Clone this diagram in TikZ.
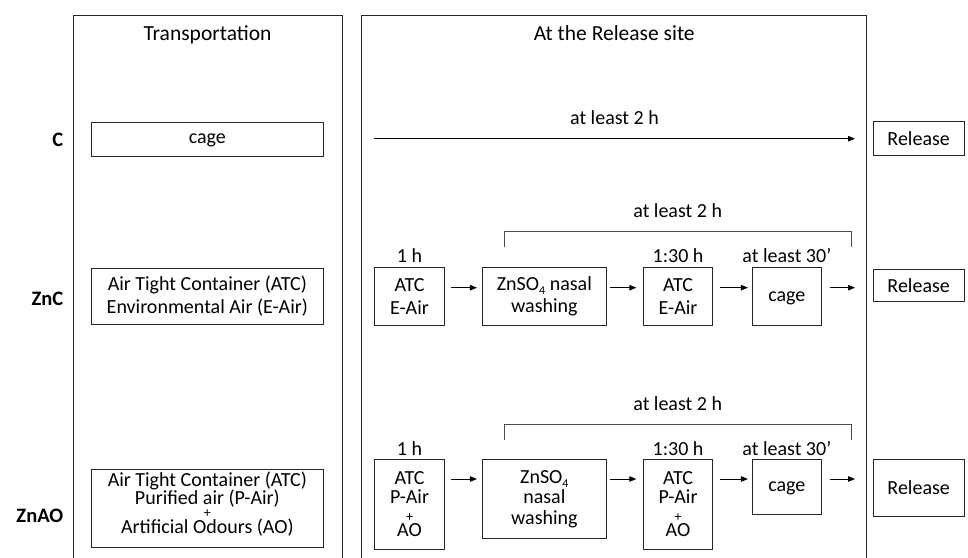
\documentclass[tikz,border=0pt]{standalone}
\usepackage{fontspec}
\setmainfont{Carlito}
\usetikzlibrary{arrows.meta}
\newcommand{\bodyfont}{\fontsize{20}{22.5}\selectfont}
\newcommand{\headfont}{\fontsize{21.5}{25}\selectfont}
\newcommand{\rowfont}{\fontsize{20.5}{24}\selectfont\bfseries}
\newcommand{\plusfont}{\fontsize{14}{14}\selectfont}
\newcommand{\subfour}{\raisebox{-0.22em}{\fontsize{12}{12}\selectfont 4}}
\begin{document}
\begin{tikzpicture}[x=1pt,y=-1pt,
  box/.style={draw=black!85, line width=0.8pt, align=center, inner sep=0pt, font=\bodyfont},
  cagebox/.style={box, text height=13pt},
  lbl/.style={font=\bodyfont, inner sep=0pt, anchor=base},
  head/.style={font=\headfont, inner sep=0pt, anchor=base},
  rowlbl/.style={font=\rowfont, inner sep=0pt, anchor=base east},
  frame/.style={draw=black!85, line width=0.8pt},
  brk/.style={draw=black!70, line width=0.8pt},
  arr/.style={draw=black, line width=0.9pt, -{Triangle[length=7pt,width=5.5pt]}},
]
\useasboundingbox (0,0) rectangle (968,557);
\fill[white] (0,0) rectangle (968,557);

% panels
\draw[frame] (73,558) -- (73,15.7) -- (342,15.7) -- (342,558);
\draw[frame] (361.7,558) -- (361.7,15.7) -- (866.7,15.7) -- (866.7,558);
\node[head] (hT) at (207.5,40) {Transportation};
\node[head] (hR) at (614.2,40) {At the Release site};

% row labels
\node[rowlbl] (rC) at (63.5,146.5) {C};
\node[rowlbl] (rZnC) at (63.5,305) {ZnC};
\node[rowlbl] (rZnAO) at (63.5,522.7) {ZnAO};

% ---- C row
\node[cagebox, minimum width=231.3, minimum height=34] (cCage) at (207.35,139) {cage};
\node[box, minimum width=90.7, minimum height=34] (cRel) at (918.65,138.7) {Release};
\coordinate (cS) at (374,138.7);
\coordinate (cE) at (855,138.7);
\draw[arr] (cS) -- (cE);
\node[lbl] (c2h) at (614.5,124) {at least 2 h};

% ---- ZnC row
\node[box, minimum width=231.3, minimum height=56, font={\fontsize{20}{23}\selectfont}] (zT) at (207.35,296)
  {Air Tight Container (ATC)\\Environmental Air (E-Air)};
\node[box, minimum width=69.6, minimum height=57.3] (zA1) at (409.5,296.35) {ATC\\E-Air};
\node[box, minimum width=123.3, minimum height=57.3] (zZn) at (544.35,296.35) {ZnSO\subfour{} nasal\\washing};
\node[box, minimum width=69.4, minimum height=57.3] (zA3) at (678,296.35) {ATC\\E-Air};
\node[cagebox, minimum width=69.7, minimum height=57.3] (zCage) at (786.85,296.35) {cage};
\node[box, minimum width=90.7, minimum height=32] (zRel) at (918.65,285.2) {Release};
\coordinate (yZ) at (0,287.7);
\coordinate (zEnd) at (855,287.7);
\draw[arr] ([xshift=6.4pt]zA1.east |- yZ) -- ([xshift=-5.4pt]zZn.west |- yZ);
\draw[arr] ([xshift=3.8pt]zZn.east |- yZ) -- ([xshift=-6.6pt]zA3.west |- yZ);
\draw[arr] ([xshift=7.3pt]zA3.east |- yZ) -- ([xshift=-3.7pt]zCage.west |- yZ);
\draw[arr] ([xshift=7.6pt]zCage.east |- yZ) -- (zEnd);
\node[lbl] (z1h) at (409.5,262) {1 h};
\node[lbl] (z130) at (678,262) {1:30 h};
\node[lbl] (z30) at (786.85,262) {at least 30’};
\coordinate (zbL) at (504.3,247.3);
\coordinate (zbR) at (851,247.3);
\draw[brk] (zbL) -- (504.3,231.7) -- (851,231.7) -- (zbR);
\node[lbl] (z2h) at (677.7,217) {at least 2 h};

% ---- ZnAO row
\node[box, minimum width=231.3, minimum height=78.3, text depth=11pt, font={\fontsize{20}{18.4}\selectfont}] (oT) at (207.35,508.15)
  {Air Tight Container (ATC)\\Purified air (P-Air)\\[-5.2pt]{\plusfont +}\\[-2.6pt]Artificial Odours (AO)};
\node[box, minimum width=69.6, minimum height=90, font={\fontsize{20}{19}\selectfont}] (oA1) at (409.5,504.3)
  {ATC\\P-Air\\[-1pt]{\plusfont +}\\[-3.5pt]AO};
\node[box, minimum width=123.3, minimum height=79.4, font={\fontsize{20}{20.5}\selectfont}] (oZn) at (544.35,499)
  {ZnSO\subfour\\nasal\\washing};
\node[box, minimum width=69.4, minimum height=90, font={\fontsize{20}{19}\selectfont}] (oA3) at (678,504.3)
  {ATC\\P-Air\\[-1pt]{\plusfont +}\\[-3.5pt]AO};
\node[cagebox, minimum width=69.7, minimum height=54.7] (oCage) at (786.85,486.65) {cage};
\node[box, minimum width=90.7, minimum height=56.7] (oRel) at (918.65,487.65) {Release};
\coordinate (yO) at (0,479);
\coordinate (oEnd) at (855,479);
\draw[arr] ([xshift=6.4pt]oA1.east |- yO) -- ([xshift=-5.4pt]oZn.west |- yO);
\draw[arr] ([xshift=3.8pt]oZn.east |- yO) -- ([xshift=-6.6pt]oA3.west |- yO);
\draw[arr] ([xshift=7.3pt]oA3.east |- yO) -- ([xshift=-3.7pt]oCage.west |- yO);
\draw[arr] ([xshift=7.6pt]oCage.east |- yO) -- (oEnd);
\node[lbl] (o1h) at (409.5,455) {1 h};
\node[lbl] (o130) at (678,455) {1:30 h};
\node[lbl] (o30) at (786.85,455) {at least 30’};
\coordinate (obL) at (504.3,440);
\coordinate (obR) at (851,440);
\draw[brk] (obL) -- (504.3,424.3) -- (851,424.3) -- (obR);
\node[lbl] (o2h) at (677.7,410) {at least 2 h};
\end{tikzpicture}
\end{document}
